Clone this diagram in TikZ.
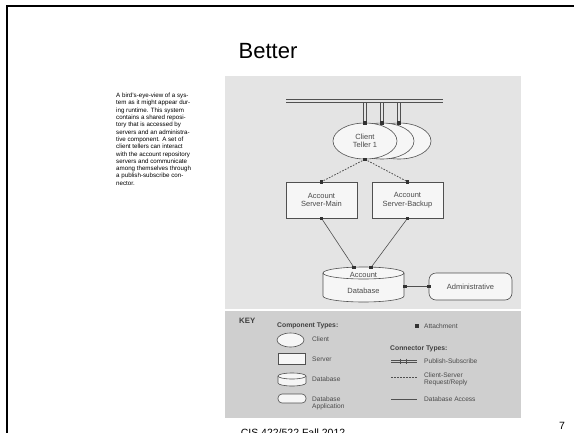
\documentclass[tikz,border=0pt]{standalone}
\usepackage{fontspec}
\setmainfont{Liberation Sans}
\usetikzlibrary{shapes.geometric,calc}
\definecolor{panelup}{HTML}{E4E4E4}
\definecolor{keybg}{HTML}{CFCFCF}
\definecolor{shapefill}{HTML}{F6F6F6}
\definecolor{ink}{HTML}{505050}
\definecolor{txt}{HTML}{4A4A4A}
\tikzset{
  comp/.style={draw=ink, fill=shapefill, line width=0.6pt},
  client/.style={comp, ellipse, minimum width=64pt, minimum height=36pt, inner sep=0pt, align=center, text=txt, font=\fontsize{7.5}{8.5}\selectfont},
  server/.style={comp, rectangle, minimum width=71pt, minimum height=36pt, inner sep=0pt, align=center, text=txt, font=\fontsize{7.5}{8.5}\selectfont},
  dbapp/.style={comp, rectangle, rounded corners=7pt, minimum width=83pt, minimum height=27pt, inner sep=0pt, text=txt, font=\fontsize{7.5}{8.5}\selectfont},
  psline/.style={draw=ink, line width=0.7pt},
  reqrep/.style={draw=ink, line width=0.8pt, dash pattern=on 1.6pt off 1.4pt},
  dbaccess/.style={draw=ink, line width=0.6pt},
  attach/.style={fill=black!80, minimum size=3.6pt, inner sep=0pt, rectangle},
  keytxt/.style={anchor=west, inner sep=0pt, text=txt, font=\fontsize{6.6}{7.4}\selectfont, align=left},
  keyhead/.style={anchor=west, inner sep=0pt, text=black!75, font=\bfseries\fontsize{6.8}{7.6}\selectfont},
}
\begin{document}
\begin{tikzpicture}[x=1pt,y=-1pt]
\useasboundingbox (0,0) rectangle (574,432);
\clip (0,0) rectangle (574,432);
\fill[white] (0,0) rectangle (574,432);
% slide frame
\draw[line width=2.6pt] (7,433) -- (7,6) -- (575,6);
% title
\node (title) at (268,51) {\fontsize{22}{26}\selectfont Better};
% description
\node[anchor=north west, align=left, inner sep=0pt, font=\fontsize{6.2}{7.3}\selectfont] (desc) at (116,93)
 {A bird's-eye-view of a sys-\\tem as it might appear dur-\\ing runtime. This system\\contains a shared reposi-\\tory that is accessed by\\servers and an administra-\\tive component. A set of\\client tellers can interact\\with the account repository\\servers and communicate\\among themselves through\\a publish-subscribe con-\\nector.};
% panels
\fill[panelup] (225,76) rectangle (521,309);
\fill[keybg] (225,311) rectangle (521,418);

% publish-subscribe bus
\coordinate (busL) at (286,101);
\coordinate (busR) at (443,101);
\draw[psline] ($(busL)+(0,-1.2)$) -- ($(busR)+(0,-1.2)$)
              ($(busL)+(0,1.2)$) -- ($(busR)+(0,1.2)$);

% clients
\node[client] (c3) at (399,141) {};
\node[client] (c2) at (382,141) {};
\node[client] (c1) at (365,141) {Client\\Teller 1};
\foreach \c in {c1,c2,c3} {
  \draw[psline] ($(\c.north |- busL)+(-1.2,1.2)$) -- ($(\c.north)+(-1.2,0)$)
                ($(\c.north |- busL)+(1.2,1.2)$) -- ($(\c.north)+(1.2,0)$);
}

% servers
\node[server] (sm) at (321.5,200) {Account\\Server-Main};
\node[server] (sb) at (407.5,200) {Account\\Server-Backup};
\draw[reqrep] (c1.south) -- (sm.north);
\draw[reqrep] (c1.south) -- (sb.north);

% database
\node[inner sep=0pt, minimum width=81pt, minimum height=35pt] (db) at (363.5,284.5) {};
\draw[comp] (323,273) -- (323,296) arc[start angle=180, end angle=0, x radius=40.5, y radius=6]
  -- (404,273) arc[start angle=0, end angle=-180, x radius=40.5, y radius=6] -- cycle;
\draw[draw=ink, line width=0.6pt] (323,273) arc[start angle=180, end angle=0, x radius=40.5, y radius=6];
\node[text=txt, font=\fontsize{7.5}{8.5}\selectfont, inner sep=0pt] (dbt1) at (363.5,274.5) {Account};
\node[text=txt, font=\fontsize{7.5}{8.5}\selectfont, inner sep=0pt] (dbt2) at (363.5,290.5) {Database};
\coordinate (dbA) at (354,267.5);
\coordinate (dbB) at (371,267.5);
\draw[dbaccess] (sm.south) -- (dbA);
\draw[dbaccess] (sb.south) -- (dbB);

% administrative
\node[dbapp] (adm) at (470.5,286.5) {Administrative};
\coordinate (dbR) at (405,286.5);
\draw[dbaccess] (dbR) -- (adm.west);

% attachments
\foreach \p in {c1.north,c2.north,c3.north,c1.south,sm.north,sb.north,sm.south,sb.south,dbA,dbB,dbR,adm.west} {
  \node[attach] at (\p) {};
}

% KEY
\node[anchor=west, inner sep=0pt, text=black!75, font=\bfseries\fontsize{7.8}{9}\selectfont] (key) at (239,321) {KEY};
\node[keyhead] (ct) at (277,325.5) {Component Types:};
\node[comp, ellipse, minimum width=27pt, minimum height=14pt, inner sep=0pt] (kcl) at (290.5,340) {};
\node[keytxt] (kclt) at (312,339.5) {Client};
\node[comp, rectangle, minimum width=27pt, minimum height=11pt, inner sep=0pt] (ksv) at (291.5,358.5) {};
\node[keytxt] (ksvt) at (312,359.5) {Server};
\draw[comp] (278,376) -- (278,383) arc[start angle=180, end angle=0, x radius=14, y radius=3]
  -- (306,376) arc[start angle=0, end angle=-180, x radius=14, y radius=3] -- cycle;
\draw[draw=ink, line width=0.6pt] (278,376) arc[start angle=180, end angle=0, x radius=14, y radius=3];
\node[keytxt] (kdbt) at (312,379.5) {Database};
\node[comp, rectangle, rounded corners=4pt, minimum width=28pt, minimum height=9pt, inner sep=0pt] (kapp) at (292,398.5) {};
\node[keytxt] (kappt) at (312,403) {Database\\Application};

\node[attach] (katt) at (417,326) {};
\node[keytxt] (kattt) at (424,326.5) {Attachment};
\node[keyhead] (cnt) at (390,348.5) {Connector Types:};
\coordinate (kpsL) at (391,361);
\coordinate (kpsR) at (417,361);
\draw[draw=ink, line width=0.6pt] ($(kpsL)+(0,-1)$) -- ($(kpsR)+(0,-1)$) ($(kpsL)+(0,1)$) -- ($(kpsR)+(0,1)$);
\draw[draw=ink, line width=0.5pt] (400,358.5) -- (400,363.5) (406,358.5) -- (406,363.5);
\node[keytxt] (kpst) at (424,361) {Publish-Subscribe};
\coordinate (krrL) at (391,377);
\coordinate (krrR) at (417,377);
\draw[reqrep, line width=0.7pt] (krrL) -- (krrR);
\node[keytxt] (krrt) at (424,379) {Client-Server\\Request/Reply};
\coordinate (kdaL) at (391,399);
\coordinate (kdaR) at (417,399);
\draw[dbaccess] (kdaL) -- (kdaR);
\node[keytxt] (kdat) at (424,399) {Database Access};

% footer
\node[anchor=base, inner sep=0pt, font=\fontsize{10.5}{12}\selectfont] (foot) at (293,436.5) {CIS 422/522 Fall 2012};
\node[anchor=base, inner sep=0pt, font=\fontsize{10.5}{12}\selectfont] (pg) at (562,429) {7};
\end{tikzpicture}
\end{document}
